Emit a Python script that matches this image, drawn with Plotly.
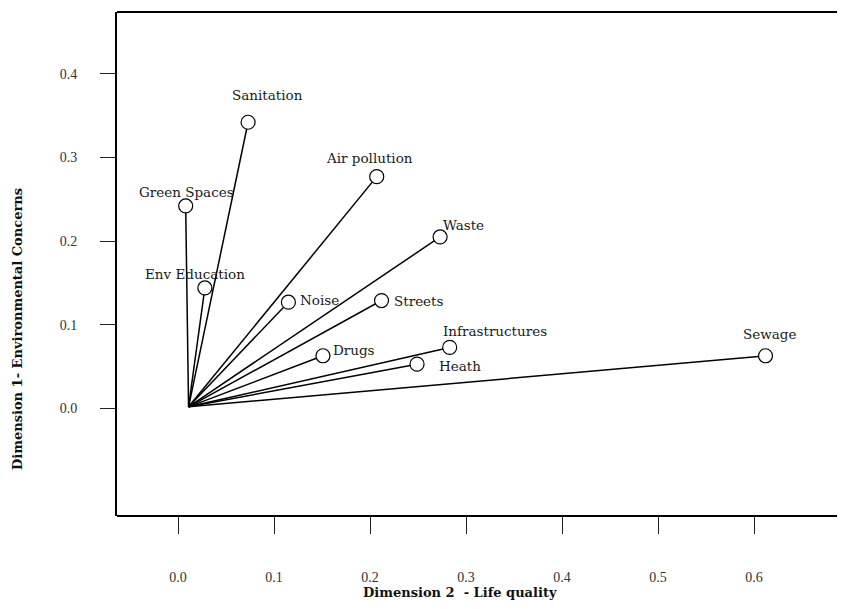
import plotly.graph_objects as go

# ---- data ----
names = ["Sanitation", "Green Spaces", "Air pollution", "Waste", "Env Education",
         "Noise", "Streets", "Drugs", "Infrastructures", "Heath", "Sewage"]
dim2 = [0.073, 0.008, 0.207, 0.273, 0.028, 0.115, 0.212, 0.151, 0.283, 0.249, 0.612]
dim1 = [0.342, 0.242, 0.277, 0.205, 0.144, 0.127, 0.129, 0.063, 0.073, 0.053, 0.063]
origin = (0.011, 0.002)
x_ticks = [0.0, 0.1, 0.2, 0.3, 0.4, 0.5, 0.6]
x_tick_text = ["0.0", "0.1", "0.2", "0.3", "0.4", "0.5", "0.6"]
y_ticks = [0.0, 0.1, 0.2, 0.3, 0.4]
y_tick_text = ["0.0", "0.1", "0.2", "0.3", "0.4"]

# ---- label placement (pixels) ----
label_style = {
    "Sanitation":      dict(xanchor="center", xshift=19, yshift=27),
    "Green Spaces":    dict(xanchor="center", xshift=1, yshift=14),
    "Air pollution":   dict(xanchor="center", xshift=-7, yshift=19),
    "Waste":           dict(xanchor="left", xshift=1, yshift=12),
    "Env Education":   dict(xanchor="center", xshift=-10, yshift=14),
    "Noise":           dict(xanchor="left", xshift=10, yshift=2),
    "Streets":         dict(xanchor="left", xshift=10, yshift=0),
    "Drugs":           dict(xanchor="left", xshift=8, yshift=6),
    "Infrastructures": dict(xanchor="center", xshift=45, yshift=16),
    "Heath":           dict(xanchor="left", xshift=20, yshift=-2),
    "Sewage":          dict(xanchor="center", xshift=4, yshift=22),
}

# page geometry (page pixels); body has an 8px margin
PAGE_OFF = 8
FIG_W, FIG_H = 829, 593
PLOT_L, PLOT_T, PLOT_B = 117, 12, 516
PLOT_R = PAGE_OFF + FIG_W
PLOT_W = PLOT_R - PLOT_L
PLOT_H = PLOT_B - PLOT_T

line_x, line_y = [], []
for xv, yv in zip(dim2, dim1):
    line_x += [origin[0], xv, None]
    line_y += [origin[1], yv, None]

fig = go.Figure()
fig.add_trace(go.Scatter(x=line_x, y=line_y, mode="lines",
                         line=dict(color="black", width=1.5),
                         hoverinfo="skip", showlegend=False))
fig.add_trace(go.Scatter(x=dim2, y=dim1, mode="markers", text=names,
                         marker=dict(symbol="circle", size=14, color="white",
                                     line=dict(color="black", width=1.2)),
                         showlegend=False))

label_font = dict(family="DejaVu Serif", size=13.5, color="#1a1a1a")
for n, xv, yv in zip(names, dim2, dim1):
    st = label_style[n]
    fig.add_annotation(x=xv, y=yv, xref="x", yref="y", text=n, showarrow=False,
                       font=label_font, yanchor="middle", **st)

title_font = dict(family="DejaVu Serif", size=13, color="#111", weight="bold")
fig.add_annotation(x=(460 - PLOT_L) / PLOT_W, y=-(592 - PLOT_B) / PLOT_H,
                   xref="paper", yref="paper",
                   text="Dimension 2  - Life quality", showarrow=False,
                   font=title_font, xanchor="center", yanchor="middle")
fig.add_annotation(x=-(PLOT_L - 17) / PLOT_W, y=(PLOT_B - 329) / PLOT_H,
                   xref="paper", yref="paper",
                   text="Dimension 1- Environmental Concerns", showarrow=False,
                   font=title_font, textangle=-90, xanchor="center", yanchor="middle")

# top and bottom frame lines (the frame is open on the right)
for yp in (0, 1):
    fig.add_shape(type="line", xref="paper", yref="paper", x0=0, x1=1, y0=yp, y1=yp,
                  line=dict(color="black", width=2))

tick_font = dict(family="Liberation Serif", size=14, color="#333")
fig.update_xaxes(range=[(PLOT_L - 178) / 960, (PLOT_R - 178) / 960],
                 tickvals=x_ticks, ticktext=x_tick_text,
                 ticks="outside", ticklen=17, tickwidth=1.2, tickcolor="#222",
                 ticklabelstandoff=31, tickfont=tick_font,
                 showline=False, mirror=False,
                 showgrid=False, zeroline=False)
fig.update_yaxes(range=[(408.5 - PLOT_B) / 837, (408.5 - PLOT_T) / 837],
                 tickvals=y_ticks, ticktext=y_tick_text,
                 ticks="outside", ticklen=15, tickwidth=1.2, tickcolor="#222",
                 ticklabelstandoff=20, tickfont=tick_font,
                 showline=True, linecolor="black", linewidth=2, mirror=False,
                 showgrid=False, zeroline=False)

fig.update_layout(width=FIG_W, height=FIG_H,
                  margin=dict(l=PLOT_L - PAGE_OFF, r=0, t=PLOT_T - PAGE_OFF,
                              b=PAGE_OFF + FIG_H - PLOT_B),
                  plot_bgcolor="white", paper_bgcolor="white",
                  showlegend=False)

fig.write_html("out.html")
